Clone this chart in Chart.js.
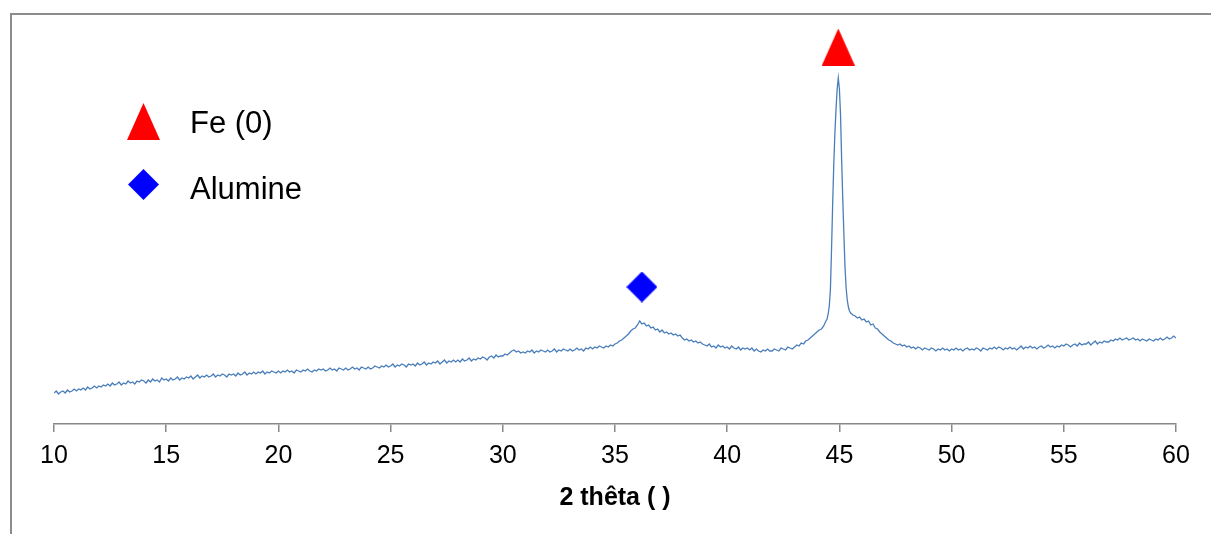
<!DOCTYPE html>
<html>
<head>
    <meta charset="utf-8">
    <script src="https://cdn.jsdelivr.net/npm/chart.js@4.4.1/dist/chart.umd.min.js"></script>
    <style>
        body{
            margin: 0;
            background: #fff;
        }
        #chart-div {
            width: 1211px;
            height: 534px;
            position: absolute;
            left: 0;
            top: 0;
        }
    </style>
</head>
<body>
<div id="chart-div">
    <canvas id="chart" width="1211" height="534"></canvas>
</div>
<script>
// scan: 10.0 -> 60.0 deg, step 0.1 (intensity, a.u.)
const scanStart = 10;
const scanStep = 0.1;
const scanCounts = [
    31, 33, 30, 32, 33, 31, 34, 32, 33, 35,
    33, 35, 34, 36, 34, 37, 35, 36, 38, 36,
    38, 37, 39, 38, 40, 38, 41, 39, 40, 42,
    39, 41, 40, 43, 41, 42, 40, 43, 42, 44,
    43, 41, 44, 42, 45, 43, 44, 42, 46, 44,
    45, 43, 46, 44, 45, 47, 44, 46, 45, 47,
    46, 48, 45, 47, 49, 46, 48, 47, 49, 47,
    48, 50, 47, 49, 48, 50, 49, 47, 50, 49,
    50, 48, 51, 49, 50, 52, 49, 51, 50, 52,
    50, 52, 51, 53, 50, 52, 51, 53, 52, 51,
    53, 51, 53, 52, 54, 52, 53, 51, 54, 53,
    52, 54, 53, 55, 53, 52, 54, 53, 55, 54,
    55, 53, 54, 56, 54, 55, 53, 56, 55, 54,
    56, 54, 55, 57, 55, 56, 54, 57, 56, 55,
    57, 55, 56, 58, 57, 56, 58, 57, 59, 57,
    58, 60, 57, 59, 58, 60, 59, 57, 60, 59,
    60, 58, 61, 59, 60, 62, 59, 61, 60, 62,
    61, 63, 60, 62, 64, 61, 63, 62, 64, 62,
    64, 62, 65, 63, 64, 66, 63, 65, 64, 66,
    65, 67, 66, 64, 67, 68, 66, 69, 67, 68,
    68, 70, 69, 71, 73, 74, 72, 73, 71, 72,
    71, 73, 72, 74, 71, 73, 72, 74, 73, 72,
    74, 72, 73, 75, 72, 74, 73, 75, 74, 73,
    75, 73, 74, 76, 74, 75, 73, 76, 75, 77,
    75, 77, 76, 78, 77, 76, 78, 77, 79, 78,
    80, 81, 83, 84, 86, 88, 90, 93, 95, 96,
    99, 103, 100, 101, 98, 99, 96, 97, 94, 95,
    92, 94, 91, 92, 90, 91, 89, 90, 88, 89,
    86, 84, 85, 83, 84, 82, 83, 81, 82, 80,
    79, 78, 80, 77, 78, 76, 79, 77, 78, 76,
    77, 75, 78, 76, 75, 77, 74, 76, 75, 76,
    74, 76, 73, 75, 73, 72, 74, 73, 75, 73,
    73, 75, 74, 73, 76, 75, 74, 77, 76, 75,
    77, 79, 78, 81, 80, 83, 84, 86, 88, 90,
    92, 94, 95, 98, 103, 110, 130, 160, 180, 200,
    200, 180, 160, 140, 120, 112, 109, 108, 106, 107,
    104, 105, 102, 103, 99, 100, 96, 95, 92, 90,
    88, 86, 84, 83, 81, 80, 79, 80, 78, 79,
    77, 78, 76, 77, 75, 77, 76, 74, 76, 75,
    74, 76, 75, 73, 75, 74, 76, 74, 75, 73,
    75, 74, 76, 74, 75, 73, 75, 76, 74, 75,
    74, 76, 75, 73, 76, 75, 74, 76, 75, 77,
    75, 77, 76, 74, 76, 75, 77, 75, 76, 74,
    76, 78, 75, 77, 76, 78, 76, 77, 75, 77,
    78, 76, 77, 79, 77, 78, 76, 78, 77, 79,
    78, 80, 79, 77, 79, 80, 78, 81, 79, 80,
    80, 82, 79, 81, 83, 80, 82, 81, 83, 82,
    82, 84, 83, 85, 84, 86, 84, 85, 86, 84,
    85, 86, 84, 85, 83, 85, 84, 83, 85, 84,
    83, 85, 84, 86, 84, 85, 87, 85, 86, 88,
    86
];

// finer points across the Fe peak (replace the coarse scan there)
const peakAngles = [44.45, 44.5, 44.55, 44.6, 44.65, 44.7, 44.75, 44.8, 44.85, 44.9, 44.95,
    45.0, 45.05, 45.1, 45.15, 45.2, 45.25, 45.3, 45.35, 45.4, 45.45, 45.5, 45.55];
const peakCounts = [105, 110, 118, 135, 175, 220, 260, 291, 315, 335, 346,
    335, 310, 264, 225, 190, 157, 136, 124, 117, 113, 111, 110];

// phase markers
const feAngles = [44.95];
const feLevels = [377];
const aluAngles = [36.2];
const aluLevels = [137];

const xTicks = [10, 15, 20, 25, 30, 35, 40, 45, 50, 55, 60];
const xTitle = '2 thêta ( )';
const legendNames = ['Fe (0)', 'Alumine'];

// build the line points
let pattern = [];
scanCounts.forEach((c, i) => {
    const a = Math.round((scanStart + i * scanStep) * 100) / 100;
    if (a > 44.42 && a < 45.58) return;
    pattern.push({x: a, y: c});
});
peakAngles.forEach((a, i) => pattern.push({x: a, y: peakCounts[i]}));
pattern.sort((p, q) => p.x - q.x);

// marker shapes
function makeTriangle(w, h, color) {
    const c = document.createElement('canvas');
    c.width = w; c.height = h;
    const g = c.getContext('2d');
    g.fillStyle = color;
    g.beginPath();
    g.moveTo(w / 2, 0);
    g.lineTo(w, h);
    g.lineTo(0, h);
    g.closePath();
    g.fill();
    return c;
}
function makeDiamond(w, h, color) {
    const c = document.createElement('canvas');
    c.width = w; c.height = h;
    const g = c.getContext('2d');
    g.fillStyle = color;
    g.beginPath();
    g.moveTo(w / 2, 0);
    g.lineTo(w, h / 2);
    g.lineTo(w / 2, h);
    g.lineTo(0, h / 2);
    g.closePath();
    g.fill();
    return c;
}
const triImg = makeTriangle(33, 37, '#ff0000');
const diaImg = makeDiamond(31, 31, '#0000ff');

const FONT = "'Liberation Sans', Arial, sans-serif";

// frame + in-plot legend
const decor = {
    id: 'decor',
    beforeDraw(chart) {
        const ctx = chart.ctx;
        ctx.save();
        ctx.fillStyle = '#fff';
        ctx.fillRect(0, 0, chart.width, chart.height);
        ctx.strokeStyle = '#8c8c8c';
        ctx.lineWidth = 2;
        ctx.beginPath();
        ctx.moveTo(11, chart.height);
        ctx.lineTo(11, 14);
        ctx.lineTo(chart.width, 14);
        ctx.stroke();
        ctx.restore();
    },
    afterDraw(chart) {
        const ctx = chart.ctx;
        ctx.save();
        ctx.drawImage(triImg, 127, 103);
        ctx.drawImage(diaImg, 128, 169);
        ctx.fillStyle = '#000';
        ctx.font = '31px ' + FONT;
        ctx.textBaseline = 'alphabetic';
        ctx.fillText(legendNames[0], 190, 133);
        ctx.fillText(legendNames[1], 190, 199);
        ctx.restore();
    }
};

const ctx = document.getElementById('chart').getContext('2d');
const myChart = new Chart(ctx, {
    type: 'scatter',
    data: {
        datasets: [{
            label: 'DRX',
            data: pattern,
            showLine: true,
            borderColor: '#4a7ebb',
            borderWidth: 1.3,
            pointRadius: 0,
            tension: 0
        }, {
            label: legendNames[0],
            data: feAngles.map((a, i) => ({x: a, y: feLevels[i]})),
            pointStyle: triImg,
            clip: false
        }, {
            label: legendNames[1],
            data: aluAngles.map((a, i) => ({x: a, y: aluLevels[i]})),
            pointStyle: diaImg,
            clip: false
        }]
    },
    options: {
        responsive: false,
        animation: false,
        layout: {
            padding: {left: 54, right: 35, top: 20, bottom: 0}
        },
        scales: {
            x: {
                type: 'linear',
                min: 10,
                max: 60,
                afterBuildTicks: s => { s.ticks = xTicks.map(v => ({value: v})); },
                afterFit: s => { s.height = 110; },
                ticks: {
                    color: '#000',
                    font: {family: FONT, size: 25},
                    padding: 9,
                    maxRotation: 0
                },
                grid: {
                    drawOnChartArea: false,
                    drawTicks: true,
                    tickLength: 8,
                    color: '#888',
                    lineWidth: 1.5
                },
                border: {display: true, color: '#888', width: 1.5},
                title: {
                    display: true,
                    text: xTitle,
                    color: '#000',
                    font: {family: FONT, size: 25, weight: 'bold'},
                    padding: {top: 0, bottom: 21}
                }
            },
            y: {
                display: false,
                min: 0,
                max: 404
            }
        },
        plugins: {
            legend: {display: false},
            tooltip: {enabled: false}
        }
    },
    plugins: [decor]
});
</script>
</body>
</html>
